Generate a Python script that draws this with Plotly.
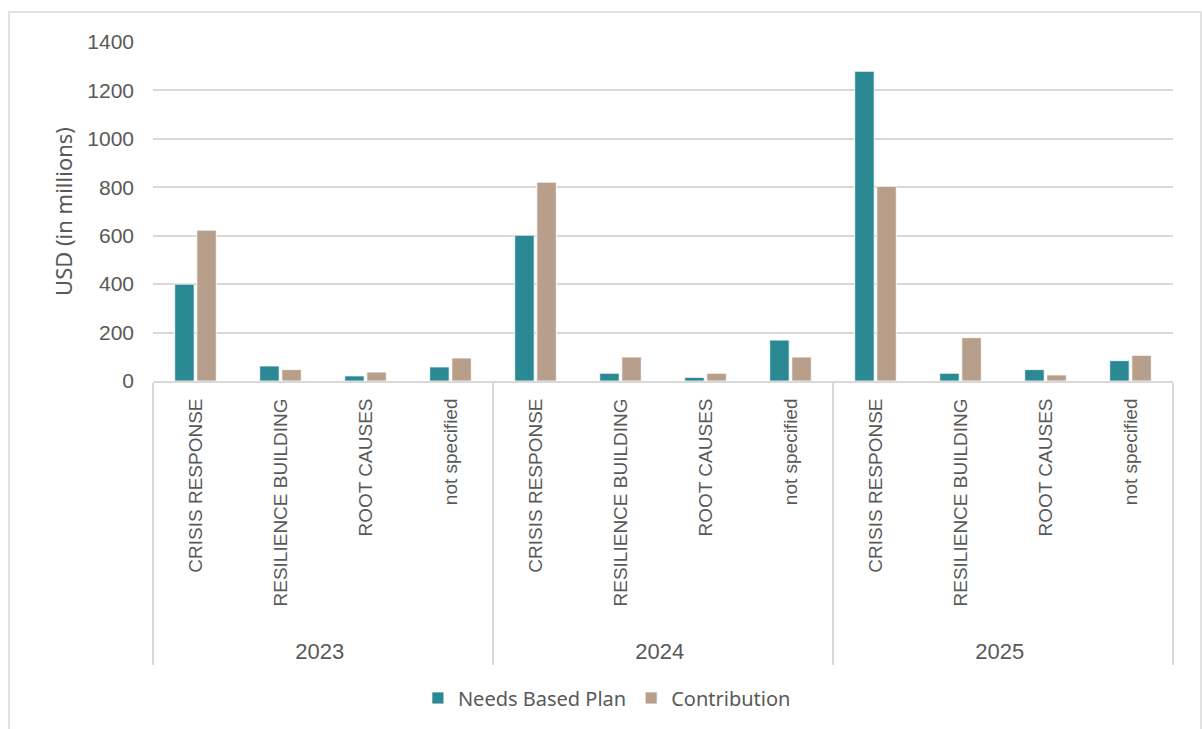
import plotly.graph_objects as go

years = ["2023", "2024", "2025"]
categories = ["CRISIS RESPONSE", "RESILIENCE BUILDING", "ROOT CAUSES", "not specified"]
needs_based_plan = [400, 62, 21, 58,
                    602, 32, 15, 169,
                    1279, 32, 47, 84]
contribution = [623, 47, 37, 95,
                821, 99, 32, 99,
                804, 179, 25, 106]
y_ticks = [0, 200, 400, 600, 800, 1000, 1200, 1400]

year_labels = ["<span style='font-size:10px'> </span><br><span style='font-size:22px'>%s</span>" % y
               for y in years]
x_outer = [y for y in year_labels for _ in categories]
x_inner = [c for _ in years for c in categories]

TEAL = "#2A8993"
TAN = "#B89F8B"
TXT = "#595959"
GRID = "#D9D9D9"

fig = go.Figure()
fig.add_trace(go.Bar(x=[x_outer, x_inner], y=needs_based_plan, name="Needs Based Plan",
                     marker=dict(color=TEAL, line=dict(color="white", width=0.8))))
fig.add_trace(go.Bar(x=[x_outer, x_inner], y=contribution, name="Contribution",
                     marker=dict(color=TAN, line=dict(color="white", width=0.8))))

fig.update_layout(
    width=1202, height=729,
    margin=dict(l=153, r=29, t=42, b=348),
    paper_bgcolor="white", plot_bgcolor="white",
    barmode="group", bargap=0.48, bargroupgap=0.12,
    font=dict(family="Liberation Sans, Arial, sans-serif", color=TXT, size=19),
    legend=dict(orientation="h", x=0.445, y=-0.935, xanchor="center", yanchor="middle",
                font=dict(family="Noto Sans, sans-serif", size=20, color=TXT),
                itemwidth=30, traceorder="normal"),
    showlegend=True,
)
fig.update_yaxes(range=[0, 1400], tickvals=y_ticks, showgrid=True, gridcolor=GRID, gridwidth=1.8,
                 zeroline=False, showline=False, ticklabelstandoff=18,
                 tickfont=dict(size=21, color=TXT),
                 title=dict(text="USD (in millions)",
                            font=dict(family="Noto Sans, sans-serif", size=22, color=TXT),
                            standoff=8))
fig.update_xaxes(type="multicategory", tickangle=-90, showline=True, linecolor=GRID, linewidth=1.8,
                 showdividers=True, dividercolor=GRID, dividerwidth=1.8, ticklabelstandoff=8,
                 tickfont=dict(size=19, color=TXT), ticks="")

fig.add_shape(type="rect", xref="paper", yref="paper",
              x0=(9 - 153) / 1020, x1=(1201 - 153) / 1020,
              y0=(381 - 740) / 339, y1=(381 - 12) / 339,
              line=dict(color=GRID, width=1.5), fillcolor="rgba(0,0,0,0)", layer="below")

fig.write_html("out.html")
